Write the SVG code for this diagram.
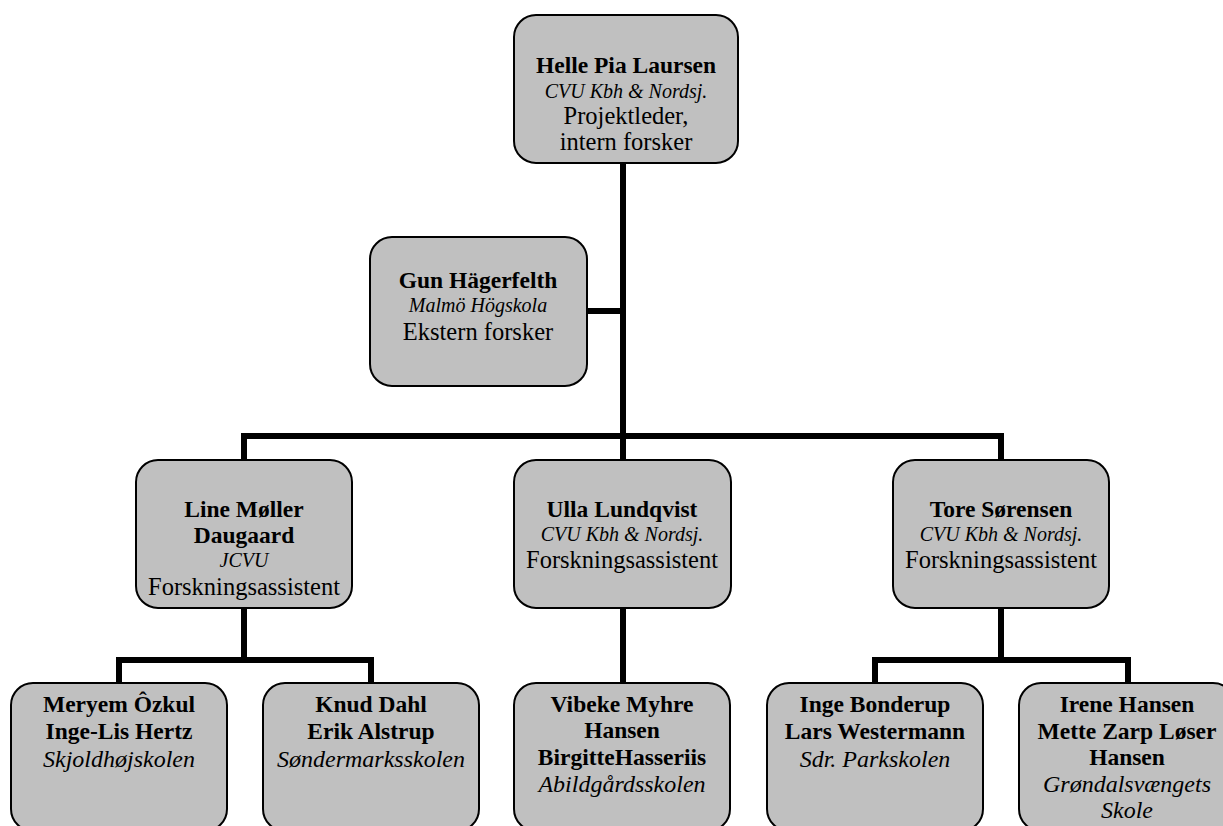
<svg xmlns="http://www.w3.org/2000/svg" width="1223" height="826" viewBox="0 0 1223 826">
<style>
.box{fill:#c0c0c0;stroke:#000;stroke-width:2}
.con{fill:none;stroke:#000;stroke-width:6;stroke-linejoin:miter;stroke-linecap:butt}
text{font-family:"Liberation Serif","Times New Roman",serif;text-anchor:middle;fill:#000}
.b{font-weight:bold;font-size:23.5px}
.i{font-style:italic;font-size:20px}
.s{font-style:italic;font-size:24px}
.r{font-size:24.5px}
</style>
<rect width="1223" height="826" fill="#fff"/>
<g id="connectors">
<path class="con" d="M623,163 V436"/>
<path class="con" d="M587,311 H623"/>
<path class="con" d="M244,460 V436 H1001 V460"/>
<path class="con" d="M623,436 V460"/>
<path class="con" d="M244,608 V660"/>
<path class="con" d="M119,683 V660 H371 V683"/>
<path class="con" d="M623,608 V683"/>
<path class="con" d="M1001,608 V660"/>
<path class="con" d="M875,683 V660 H1128 V683"/>
</g>
<g id="n-helle">
<rect class="box" x="514" y="15" width="224" height="148" rx="22"/>
<text class="b" x="626" y="73">Helle Pia Laursen</text>
<text class="i" x="626" y="98">CVU Kbh &amp; Nordsj.</text>
<text class="r" x="626" y="124">Projektleder,</text>
<text class="r" x="626" y="150">intern forsker</text>
</g>
<g id="n-gun">
<rect class="box" x="370" y="237" width="217" height="149" rx="22"/>
<text class="b" x="478" y="288">Gun Hägerfelth</text>
<text class="i" x="478" y="312">Malmö Högskola</text>
<text class="r" x="478" y="340">Ekstern forsker</text>
</g>
<g id="n-line">
<rect class="box" x="136" y="460" width="216" height="148" rx="22"/>
<text class="b" x="244" y="517">Line Møller</text>
<text class="b" x="244" y="543">Daugaard</text>
<text class="i" x="244" y="567">JCVU</text>
<text class="r" x="244" y="595">Forskningsassistent</text>
</g>
<g id="n-ulla">
<rect class="box" x="514" y="460" width="217" height="148" rx="22"/>
<text class="b" x="622" y="517">Ulla Lundqvist</text>
<text class="i" x="622" y="541">CVU Kbh &amp; Nordsj.</text>
<text class="r" x="622" y="568">Forskningsassistent</text>
</g>
<g id="n-tore">
<rect class="box" x="893" y="460" width="216" height="148" rx="22"/>
<text class="b" x="1001" y="517">Tore Sørensen</text>
<text class="i" x="1001" y="541">CVU Kbh &amp; Nordsj.</text>
<text class="r" x="1001" y="568">Forskningsassistent</text>
</g>
<g id="n-meryem">
<rect class="box" x="11" y="683" width="216" height="148" rx="22"/>
<text class="b" x="119" y="712">Meryem Ôzkul</text>
<text class="b" x="119" y="739">Inge-Lis Hertz</text>
<text class="s" x="119" y="767">Skjoldhøjskolen</text>
</g>
<g id="n-knud">
<rect class="box" x="263" y="683" width="216" height="148" rx="22"/>
<text class="b" x="371" y="712">Knud Dahl</text>
<text class="b" x="371" y="739">Erik Alstrup</text>
<text class="s" x="371" y="767">Søndermarksskolen</text>
</g>
<g id="n-vibeke">
<rect class="box" x="514" y="683" width="216" height="148" rx="22"/>
<text class="b" x="622" y="712">Vibeke Myhre</text>
<text class="b" x="622" y="738">Hansen</text>
<text class="b" x="622" y="765">BirgitteHasseriis</text>
<text class="s" x="622" y="792">Abildgårdsskolen</text>
</g>
<g id="n-inge">
<rect class="box" x="767" y="683" width="216" height="148" rx="22"/>
<text class="b" x="875" y="712">Inge Bonderup</text>
<text class="b" x="875" y="739">Lars Westermann</text>
<text class="s" x="875" y="767">Sdr. Parkskolen</text>
</g>
<g id="n-irene">
<rect class="box" x="1019" y="683" width="216" height="148" rx="22"/>
<text class="b" x="1127" y="712">Irene Hansen</text>
<text class="b" x="1127" y="739">Mette Zarp Løser</text>
<text class="b" x="1127" y="765">Hansen</text>
<text class="s" x="1127" y="792">Grøndalsvængets</text>
<text class="s" x="1127" y="818">Skole</text>
</g>
</svg>
